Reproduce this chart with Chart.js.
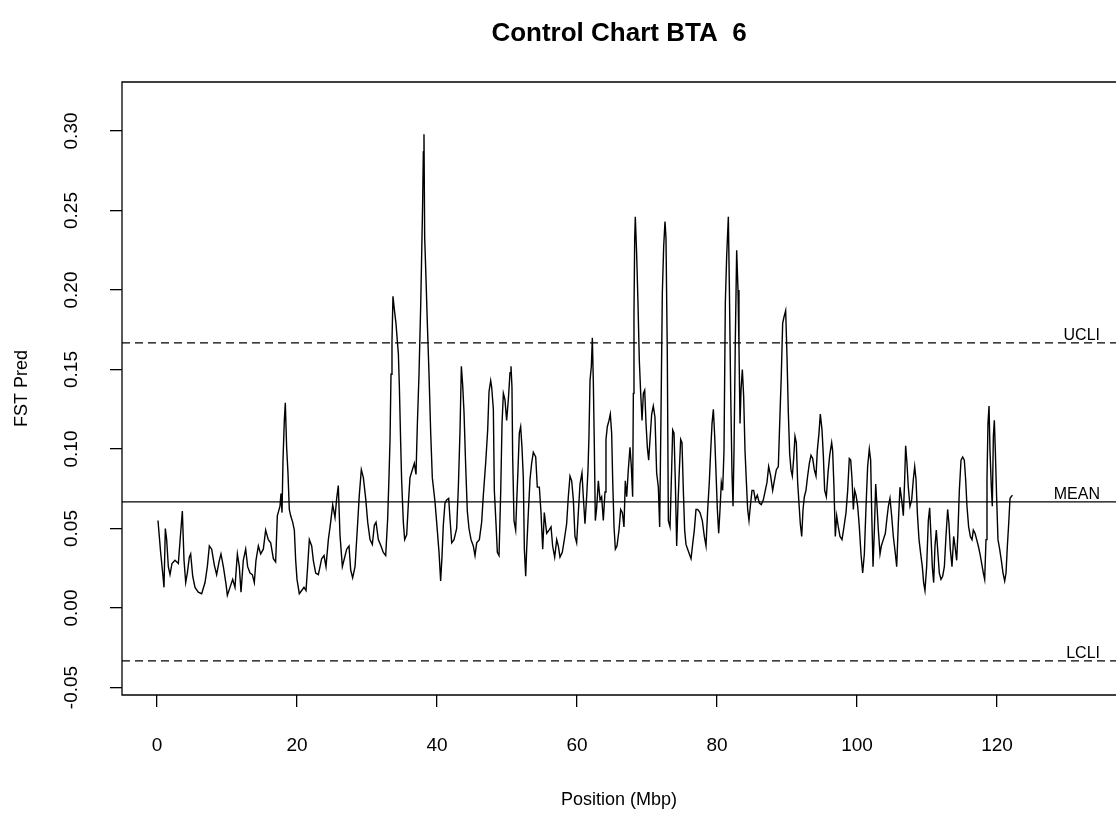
<!DOCTYPE html>
<html>
<head>
<meta charset="utf-8">
<script src="https://cdn.jsdelivr.net/npm/chart.js@4.4.1/dist/chart.umd.min.js"></script>
<style>
  html, body { margin: 0; padding: 0; background: #fff; overflow: hidden; }
</style>
</head>
<body>
<canvas id="myChart" width="1116" height="817"></canvas>
<script>
// Position (Mbp) of each window along BTA 6
const positions = [
  0.14, 0.52, 0.81, 1.0, 1.19, 1.38, 1.62, 1.86, 2.14, 2.57, 3.05, 3.29, 3.62, 3.86, 4.1, 4.33, 4.62, 4.81,
  5.1, 5.43, 5.9, 6.38, 6.86, 7.19, 7.48, 7.81, 8.19, 8.52, 8.86, 9.14, 9.48, 9.86, 10.05, 10.43, 10.81,
  11.14, 11.48, 11.76, 12.0, 12.33, 12.67, 12.95, 13.29, 13.62, 13.9, 14.14, 14.48, 14.81, 15.19, 15.52,
  15.9, 16.24, 16.62, 16.95, 17.19, 17.57, 17.71, 17.86, 18.0, 18.19, 18.33, 18.52, 18.71, 18.9, 19.1,
  19.38, 19.62, 19.81, 20.0, 20.33, 20.67, 21.0, 21.29, 21.52, 21.76, 22.1, 22.33, 22.67, 23.05,
  23.29, 23.52, 23.86, 24.14, 24.48, 24.81, 25.1, 25.43, 25.67, 25.9, 26.14, 26.48, 26.76, 27.1, 27.43,
  27.67, 27.95, 28.29, 28.62, 28.9, 29.19, 29.48, 29.81, 30.1, 30.43, 30.76, 31.05, 31.29, 31.62, 32.0,
  32.33, 32.67, 32.95, 33.14, 33.29, 33.43, 33.57, 33.71, 33.9, 34.14, 34.33, 34.48, 34.62, 34.81, 34.95,
  35.19, 35.38, 35.67, 35.9, 36.14, 36.48, 36.76, 37.0, 37.19, 37.43, 37.67, 37.81, 37.95, 38.05, 38.14,
  38.24, 38.43, 38.62, 38.86, 39.1, 39.33, 39.71, 39.95, 40.29, 40.52, 40.71, 40.9, 41.14, 41.38, 41.67,
  41.86, 42.1, 42.43, 42.81, 43.05, 43.29, 43.48, 43.67, 43.86, 44.1, 44.33, 44.57, 44.86, 45.19, 45.43,
  45.67, 46.05, 46.38, 46.62, 46.95, 47.24, 47.43, 47.67,
  47.81, 48.05, 48.19, 48.43, 48.62, 48.86, 49.1, 49.29, 49.48, 49.71, 49.95, 50.19, 50.43, 50.57, 50.71,
  50.81, 51.0, 51.24, 51.38, 51.57, 51.76, 51.95, 52.14, 52.33, 52.48, 52.67, 52.81, 53.05, 53.29, 53.52,
  53.76, 54.1, 54.33, 54.62, 54.86, 55.1, 55.33, 55.67, 56.0, 56.29, 56.52, 56.81, 57.1, 57.33, 57.57,
  57.9, 58.19, 58.52, 58.76, 59.0, 59.24, 59.48, 59.71, 59.95, 60.19, 60.43, 60.71, 60.9, 61.14, 61.38,
  61.57, 61.71, 61.86, 62.05, 62.19, 62.33, 62.48, 62.62, 62.81, 63.05, 63.29, 63.52, 63.76, 64.0, 64.14,
  64.33, 64.57, 64.76, 64.95, 65.1, 65.29, 65.48, 65.71, 66.0, 66.24, 66.48, 66.71, 66.9, 67.1, 67.33,
  67.57, 67.76, 67.95, 68.05, 68.14, 68.24, 68.33, 68.52, 68.71, 68.9, 69.1, 69.29, 69.48, 69.67, 69.86,
  70.05, 70.24, 70.43, 70.67, 70.9, 71.14, 71.38, 71.62, 71.81, 72.0, 72.19, 72.38,
  72.57, 72.71, 72.9, 73.05, 73.29, 73.52, 73.67, 73.86, 74.05, 74.24, 74.43, 74.62, 74.81, 75.0, 75.19,
  75.38, 75.57, 75.81, 76.05, 76.29, 76.52, 76.76, 77.0, 77.24, 77.57, 77.9, 78.19, 78.43, 78.67, 78.9,
  79.1, 79.29, 79.48, 79.67, 79.86, 80.05, 80.24, 80.43, 80.62, 80.81, 81.0, 81.19, 81.38, 81.62, 81.76,
  81.95, 82.14, 82.29, 82.43, 82.62, 82.81, 83.0, 83.14, 83.29, 83.43, 83.62, 83.81, 84.0, 84.19, 84.38,
  84.57, 84.76, 85.0, 85.24, 85.48, 85.76, 86.05, 86.33, 86.62, 86.9, 87.14, 87.38, 87.67, 87.95, 88.19,
  88.48, 88.76, 89.0, 89.19, 89.38, 89.57, 89.81, 90.0, 90.19, 90.38, 90.57, 90.76, 90.95, 91.14, 91.33,
  91.52, 91.71, 91.9, 92.1, 92.29, 92.48, 92.71, 92.95, 93.19, 93.43, 93.67, 93.9, 94.14, 94.33, 94.57,
  94.76, 95.0, 95.19, 95.38, 95.62, 95.86, 96.1,
  96.38, 96.52, 96.71, 96.9, 97.1, 97.33, 97.57, 97.86, 98.14, 98.43, 98.67, 98.9, 99.1, 99.29, 99.48,
  99.67, 99.86, 100.1, 100.33, 100.57, 100.81, 101.05, 101.29, 101.52, 101.76, 101.95, 102.1, 102.29,
  102.48, 102.67, 102.86, 103.05, 103.29, 103.48, 103.76, 104.05, 104.24, 104.48, 104.71, 104.95, 105.19,
  105.48, 105.67, 105.9, 106.14, 106.38, 106.62, 106.81, 106.95, 107.14, 107.33, 107.57, 107.81, 108.05,
  108.24, 108.43, 108.62, 108.86, 109.1, 109.33, 109.52, 109.71, 109.95, 110.19, 110.38, 110.57, 110.76,
  110.95, 111.14, 111.33, 111.52, 111.76, 112.0, 112.24, 112.48, 112.71, 112.95, 113.14, 113.33, 113.57,
  113.81, 114.0, 114.24, 114.43, 114.62, 114.86, 115.1, 115.33, 115.52, 115.71, 115.95, 116.19, 116.43,
  116.62, 116.86, 117.1, 117.33, 117.57, 117.81, 118.05, 118.24, 118.43, 118.57, 118.71, 118.86, 119.0,
  119.19, 119.33, 119.48, 119.62, 119.76, 119.95, 120.14, 120.38, 120.62, 120.86, 121.1, 121.29, 121.48,
  121.67, 121.86, 122.2
];

// FST Pred for each window
const fstPred = [
  0.055, 0.035, 0.022, 0.013, 0.050, 0.043, 0.026, 0.021, 0.028, 0.030, 0.028, 0.042, 0.061, 0.030, 0.016, 0.022, 0.032, 0.034,
  0.020, 0.013, 0.010, 0.009, 0.016, 0.026, 0.039, 0.037, 0.027, 0.021, 0.029, 0.034, 0.026, 0.015, 0.008, 0.013, 0.018,
  0.013, 0.034, 0.026, 0.010, 0.030, 0.037, 0.026, 0.022, 0.021, 0.016, 0.030, 0.039, 0.034, 0.037, 0.049,
  0.043, 0.041, 0.031, 0.029, 0.058, 0.064, 0.072, 0.060, 0.093, 0.118, 0.129, 0.101, 0.085, 0.062, 0.058,
  0.054, 0.049, 0.030, 0.018, 0.009, 0.011, 0.013, 0.011, 0.026, 0.043, 0.039, 0.030, 0.022, 0.021,
  0.026, 0.031, 0.033, 0.026, 0.043, 0.054, 0.065, 0.057, 0.069, 0.077, 0.046, 0.026, 0.031, 0.037, 0.039,
  0.024, 0.019, 0.026, 0.050, 0.071, 0.087, 0.082, 0.069, 0.054, 0.043, 0.040, 0.052, 0.054, 0.043, 0.039,
  0.035, 0.033, 0.056, 0.082, 0.106, 0.147, 0.168, 0.196, 0.188, 0.179, 0.168, 0.160, 0.140, 0.104, 0.080,
  0.054, 0.043, 0.046, 0.065, 0.082, 0.087, 0.091, 0.084, 0.115, 0.147, 0.190, 0.222, 0.255, 0.287, 0.298,
  0.233, 0.207, 0.179, 0.147, 0.110, 0.082, 0.067, 0.054, 0.035, 0.017, 0.032, 0.052, 0.066, 0.068, 0.069,
  0.056, 0.041, 0.043, 0.050, 0.076, 0.112, 0.152, 0.140, 0.123, 0.089, 0.061, 0.050, 0.043, 0.039, 0.033,
  0.041, 0.043, 0.054, 0.071, 0.091, 0.112, 0.136, 0.143,
  0.139, 0.125, 0.074, 0.053, 0.035, 0.033, 0.073, 0.116, 0.135, 0.131, 0.118, 0.131, 0.148, 0.152, 0.139,
  0.095, 0.055, 0.049, 0.066, 0.087, 0.110, 0.114, 0.101, 0.082, 0.037, 0.020, 0.037, 0.060, 0.081, 0.091,
  0.098, 0.095, 0.076, 0.076, 0.060, 0.037, 0.060, 0.047, 0.049, 0.051, 0.039, 0.032, 0.043, 0.039, 0.032,
  0.035, 0.043, 0.053, 0.070, 0.083, 0.080, 0.068, 0.045, 0.041, 0.060, 0.078, 0.085, 0.070, 0.053, 0.070,
  0.087, 0.108, 0.143, 0.152, 0.170, 0.143, 0.101, 0.055, 0.063, 0.080, 0.068, 0.070, 0.055, 0.073, 0.106,
  0.114, 0.118, 0.122, 0.110, 0.080, 0.051, 0.037, 0.039, 0.049, 0.062, 0.060, 0.051, 0.080, 0.070, 0.087,
  0.101, 0.089, 0.070, 0.135, 0.185, 0.232, 0.246, 0.223, 0.192, 0.156, 0.135, 0.118, 0.135, 0.137, 0.116,
  0.101, 0.093, 0.106, 0.122, 0.127, 0.120, 0.085, 0.076, 0.051, 0.122, 0.198, 0.227,
  0.243, 0.233, 0.160, 0.055, 0.051, 0.087, 0.112, 0.110, 0.079, 0.039, 0.066, 0.087, 0.106, 0.104, 0.074,
  0.049, 0.040, 0.037, 0.034, 0.031, 0.040, 0.049, 0.062, 0.062, 0.060, 0.055, 0.045, 0.039, 0.062, 0.079,
  0.099, 0.116, 0.125, 0.108, 0.085, 0.062, 0.047, 0.062, 0.079, 0.074, 0.099, 0.192, 0.221, 0.246, 0.204,
  0.137, 0.085, 0.064, 0.099, 0.169, 0.225, 0.200, 0.164, 0.116, 0.137, 0.150, 0.133, 0.099, 0.080, 0.062,
  0.055, 0.064, 0.074, 0.074, 0.068, 0.071, 0.066, 0.065, 0.068, 0.074, 0.079, 0.089, 0.083, 0.074, 0.080,
  0.087, 0.089, 0.122, 0.147, 0.179, 0.183, 0.187, 0.158, 0.123, 0.097, 0.087, 0.083, 0.094, 0.108, 0.104,
  0.079, 0.066, 0.053, 0.045, 0.062, 0.070, 0.074, 0.083, 0.091, 0.096, 0.094, 0.087, 0.083, 0.099, 0.110,
  0.122, 0.112, 0.096, 0.074, 0.070, 0.085, 0.096,
  0.104, 0.099, 0.076, 0.045, 0.058, 0.051, 0.045, 0.043, 0.051, 0.060, 0.074, 0.094, 0.093, 0.081, 0.062,
  0.074, 0.071, 0.064, 0.051, 0.034, 0.022, 0.034, 0.064, 0.089, 0.100, 0.093, 0.060, 0.026,
  0.049, 0.078, 0.064, 0.049, 0.034, 0.039, 0.043, 0.047, 0.055, 0.064, 0.069, 0.058, 0.045,
  0.034, 0.026, 0.053, 0.076, 0.068, 0.058, 0.081, 0.102, 0.091, 0.076, 0.064, 0.068, 0.081,
  0.089, 0.081, 0.060, 0.043, 0.034, 0.026, 0.016, 0.011, 0.026, 0.055, 0.063, 0.045, 0.026,
  0.016, 0.039, 0.049, 0.037, 0.022, 0.018, 0.020, 0.026, 0.045, 0.062, 0.053, 0.037, 0.026,
  0.045, 0.039, 0.030, 0.049, 0.074, 0.093, 0.095, 0.093, 0.081, 0.064, 0.051, 0.045, 0.043,
  0.049, 0.047, 0.043, 0.039, 0.034, 0.028, 0.022, 0.018, 0.043, 0.081, 0.116, 0.127, 0.099,
  0.076, 0.064, 0.108, 0.118, 0.099, 0.069, 0.043, 0.037, 0.030, 0.022, 0.017, 0.022, 0.039,
  0.053, 0.069, 0.071
];

const xTicks = [0, 20, 40, 60, 80, 100, 120];
const yTicks = [-0.05, 0.00, 0.05, 0.10, 0.15, 0.20, 0.25, 0.30];

// control limits: mean +/- 0.1
const controlNames = ['UCLI', 'MEAN', 'LCLI'];
const controlValues = [0.1667, 0.0667, -0.0333];

const xMin = -5, xMax = 137;
const yMin = -0.0547, yMax = 0.3308;
const fontFam = '"Liberation Sans", Arial, sans-serif';

const pts = positions.map((p, i) => ({ x: p, y: fstPred[i] }));

const controlSets = controlNames.map((n, i) => ({
  label: n,
  data: [{ x: xMin, y: controlValues[i] }, { x: xMax, y: controlValues[i] }],
  borderColor: '#000',
  borderWidth: 1.3,
  borderDash: n === 'MEAN' ? [] : [8, 5],
  pointRadius: 0
}));

// box, rotated y labels, titles and control-line labels, R style
const rStyle = {
  id: 'rStyle',
  afterDraw(chart) {
    const { ctx, chartArea: a, scales: { x, y } } = chart;
    ctx.save();
    ctx.strokeStyle = '#000';
    ctx.lineWidth = 1.3;
    ctx.beginPath();
    ctx.moveTo(a.right + 2, a.top);
    ctx.lineTo(a.left, a.top);
    ctx.lineTo(a.left, a.bottom);
    ctx.lineTo(a.right + 2, a.bottom);
    ctx.stroke();

    ctx.fillStyle = '#000';
    ctx.font = '19px ' + fontFam;
    ctx.textAlign = 'center';
    ctx.textBaseline = 'middle';
    yTicks.forEach(v => {
      ctx.save();
      ctx.translate(72, y.getPixelForValue(v));
      ctx.rotate(-Math.PI / 2);
      ctx.fillText(v.toFixed(2), 0, 0);
      ctx.restore();
    });

    ctx.font = '18px ' + fontFam;
    ctx.save();
    ctx.translate(22, (a.top + a.bottom) / 2);
    ctx.rotate(-Math.PI / 2);
    ctx.fillText('FST Pred', 0, 0);
    ctx.restore();
    ctx.fillText('Position (Mbp)', (a.left + a.right) / 2, 800);

    ctx.font = 'bold 26px ' + fontFam;
    ctx.fillText('Control Chart BTA  6', (a.left + a.right) / 2, 34);

    ctx.font = '16px ' + fontFam;
    ctx.textAlign = 'right';
    ctx.textBaseline = 'alphabetic';
    controlNames.forEach((n, i) => {
      ctx.fillText(n, 1100, y.getPixelForValue(controlValues[i]) - 3);
    });
    ctx.restore();
  }
};

new Chart(document.getElementById('myChart').getContext('2d'), {
  type: 'line',
  data: {
    datasets: [{
      label: 'FST Pred',
      data: pts,
      borderColor: '#000',
      borderWidth: 1.4,
      pointRadius: 0,
      tension: 0
    }].concat(controlSets)
  },
  options: {
    responsive: false,
    animation: false,
    devicePixelRatio: 1,
    layout: { padding: { top: 82, right: 0, left: 0, bottom: 0 } },
    plugins: { legend: { display: false }, title: { display: false }, tooltip: { enabled: false } },
    scales: {
      x: {
        type: 'linear',
        min: xMin,
        max: xMax,
        afterBuildTicks: s => { s.ticks = xTicks.map(v => ({ value: v })); },
        afterFit: s => { s.height = 122; },
        grid: { display: true, drawOnChartArea: false, drawTicks: true, tickLength: 12, color: '#000', lineWidth: 1.3 },
        border: { display: false },
        ticks: { color: '#000', font: { family: fontFam, size: 19 }, padding: 27, maxRotation: 0, autoSkip: false }
      },
      y: {
        type: 'linear',
        min: yMin,
        max: yMax,
        afterBuildTicks: s => { s.ticks = yTicks.map(v => ({ value: v })); },
        afterFit: s => { s.width = 122; },
        grid: { display: true, drawOnChartArea: false, drawTicks: true, tickLength: 12, color: '#000', lineWidth: 1.3 },
        border: { display: false },
        ticks: { display: false }
      }
    }
  },
  plugins: [rStyle]
});
</script>
</body>
</html>
